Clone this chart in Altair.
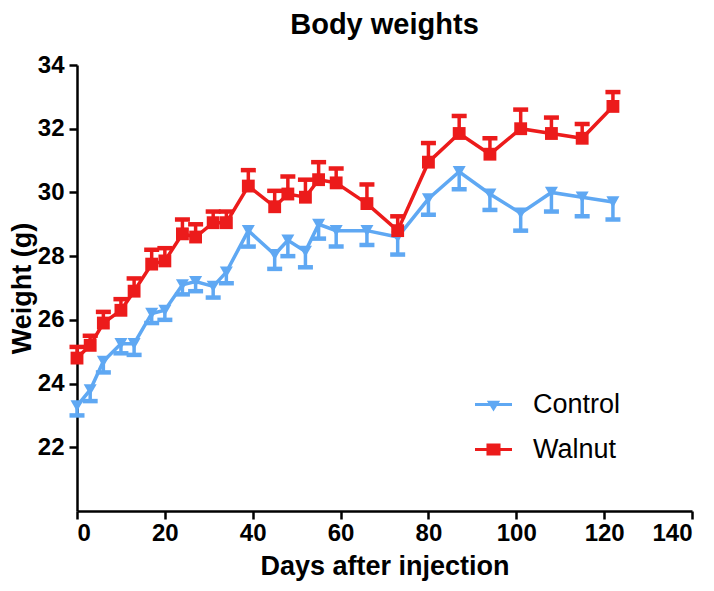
import altair as alt
import pandas as pd

# ---- data ----
days = [0, 3, 6, 10, 13, 17, 20, 24, 27, 31, 34, 39, 45, 48, 52, 55, 59, 66, 73, 80, 87, 94, 101, 108, 115, 122]
control_mean = [23.3, 23.8, 24.7, 25.25, 25.25, 26.2, 26.3, 27.1, 27.2, 27.05, 27.5, 28.8, 28.05, 28.5, 28.15, 29.0,
                28.8, 28.8, 28.6, 29.8, 30.65, 29.95, 29.35, 30.0, 29.85, 29.7]
control_sem = [0.3, 0.35, 0.35, 0.3, 0.35, 0.3, 0.3, 0.3, 0.3, 0.35, 0.35, 0.5, 0.45, 0.5, 0.5, 0.45,
               0.5, 0.45, 0.55, 0.5, 0.55, 0.5, 0.55, 0.6, 0.6, 0.55]
walnut_mean = [24.8, 25.2, 25.9, 26.3, 26.9, 27.75, 27.85, 28.7, 28.6, 29.05, 29.05, 30.2, 29.55, 29.95, 29.85, 30.4,
               30.3, 29.65, 28.8, 30.95, 31.85, 31.2, 32.0, 31.85, 31.7, 32.7]
walnut_sem = [0.35, 0.3, 0.35, 0.35, 0.4, 0.45, 0.4, 0.45, 0.4, 0.35, 0.35, 0.5, 0.5, 0.55, 0.55, 0.55,
              0.45, 0.6, 0.45, 0.6, 0.55, 0.5, 0.6, 0.5, 0.45, 0.45]
groups = ["Control", "Walnut"]
x_ticks = [0, 20, 40, 60, 80, 100, 120, 140]
y_ticks = [22, 24, 26, 28, 30, 32, 34]

BLUE = "#5FA8F3"
RED = "#EC1B1B"
FONT = "Liberation Sans"

rows = []
for d, m, s in zip(days, control_mean, control_sem):
    rows.append({"group": "Control", "day": d, "mean": m, "end": m - s})
for d, m, s in zip(days, walnut_mean, walnut_sem):
    rows.append({"group": "Walnut", "day": d, "mean": m, "end": m + s})
df = pd.DataFrame(rows)

x_enc = alt.X("day:Q", scale=alt.Scale(domain=[0, 140], nice=False),
              axis=alt.Axis(values=x_ticks, title="Days after injection", titlePadding=8,
                            titleFontSize=27, labelPadding=2))
y_enc = alt.Y("mean:Q", scale=alt.Scale(domain=[20, 34], nice=False, zero=False),
              axis=alt.Axis(values=y_ticks, title="Weight (g)", titlePadding=1,
                            titleFontSize=27, labelPadding=5))


def series(name, color, shape, size):
    base = alt.Chart(df).transform_filter(alt.datum.group == name)
    line = base.mark_line(strokeWidth=3.5, color=color).encode(x=x_enc, y=y_enc)
    stem = base.mark_rule(strokeWidth=3.5, color=color).encode(x="day:Q", y="mean:Q", y2="end:Q")
    cap = base.mark_tick(orient="horizontal", size=15, thickness=4.5, color=color, opacity=1).encode(
        x="day:Q", y="end:Q")
    pts = base.mark_point(filled=True, shape=shape, size=size, color=color, opacity=1).encode(
        x="day:Q", y="mean:Q")
    return [line, stem, cap, pts]


tri_path = "M-1,-0.08H1V0.08H-1Z M-0.36,-0.2L0.36,-0.2L0,0.38Z"
sq_path = "M-1,-0.08H1V0.08H-1Z M-0.38,-0.33H0.38V0.33H-0.38Z"

leg = alt.Legend(title=None, orient="none", legendX=398, legendY=321, padding=0,
                 symbolSize=1369, symbolStrokeWidth=0, labelFont=FONT, labelFontSize=27,
                 labelFontWeight="normal", labelColor="black", labelOffset=21, rowPadding=13)

legend_layer = alt.Chart(df).transform_filter("false").mark_point(filled=True, opacity=1, size=1369).encode(
    color=alt.Color("group:N", scale=alt.Scale(domain=groups, range=[BLUE, RED]), legend=leg),
    shape=alt.Shape("group:N", scale=alt.Scale(domain=groups, range=[tri_path, sq_path]), legend=leg),
)

layers = series("Control", BLUE, "triangle-down", 170) + series("Walnut", RED, "square", 165) + [legend_layer]

chart = alt.layer(*layers).properties(
    width=615, height=446,
    autosize="none",
    padding={"left": 69, "top": 57, "right": 14, "bottom": 72},
    title=alt.TitleParams("Body weights", font=FONT, fontSize=29, fontWeight="bold", color="black",
                          anchor="middle", frame="group", offset=13),
).configure_view(stroke=None).configure_axis(
    grid=False, domainColor="black", domainWidth=2.5, tickColor="black", tickWidth=2.5, tickSize=8,
    labelFont=FONT, labelFontSize=24, labelFontWeight="bold", labelColor="black",
    titleFont=FONT, titleFontWeight="bold", titleColor="black",
)

chart.save("out.html", embed_options={"renderer": "svg", "actions": False})
